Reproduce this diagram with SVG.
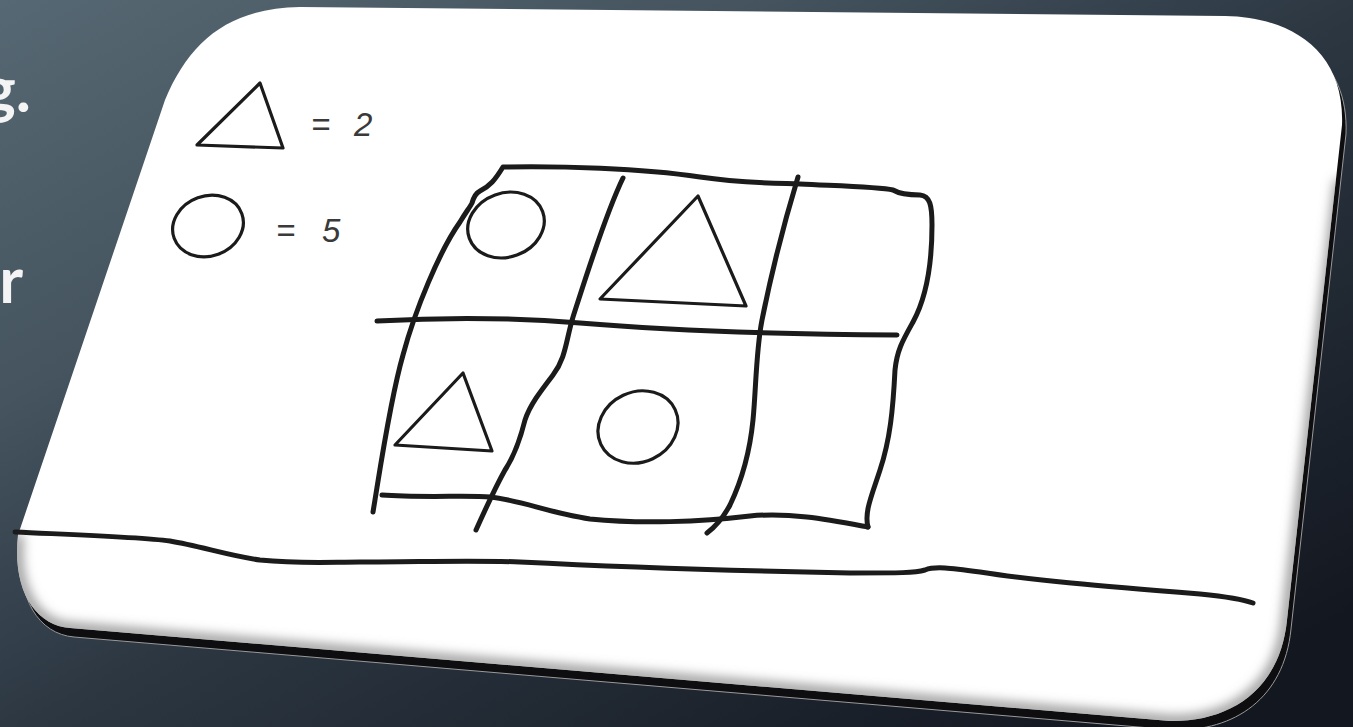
<svg xmlns="http://www.w3.org/2000/svg" width="1353" height="727" viewBox="0 0 1353 727">
  <defs>
    <linearGradient id="bg" gradientUnits="userSpaceOnUse" x1="0" y1="0" x2="560" y2="1040">
      <stop offset="0" stop-color="#566873"/>
      <stop offset="0.3" stop-color="#45545f"/>
      <stop offset="0.55" stop-color="#2c3742"/>
      <stop offset="1" stop-color="#131720"/>
    </linearGradient>
    <clipPath id="cardClip">
      <path d="M 300,7 L 1225,16 C 1290,17 1345,50 1342,125 L 1287,620 C 1280,690 1230,722 1170,721 L 70,628 C 35,625 12,590 18,535 L 165,100 C 190,40 230,8 300,7 Z"/>
    </clipPath>
    <filter id="blur8" x="-10%" y="-10%" width="120%" height="120%">
      <feGaussianBlur stdDeviation="6"/>
    </filter>
    <style>
      .ink { fill: none; stroke: #1b1b1b; stroke-linecap: round; stroke-linejoin: round; }
      .thick { stroke-width: 5; }
      .thin { stroke-width: 3.2; }
      .lbl { font-family: "Liberation Sans", Arial, sans-serif; font-style: italic; font-size: 33px; fill: #3a3a3a; }
      .slide { font-family: Lato, "Open Sans", sans-serif; font-weight: 700; font-size: 64px; fill: #f4f4f4; }
    </style>
  </defs>

  <rect id="background" x="0" y="0" width="1353" height="727" fill="url(#bg)"/>

  <g id="slide-text">
    <text class="slide" x="31" y="112" text-anchor="end">g.</text>
    <text class="slide" x="23" y="303" text-anchor="end">r</text>
  </g>

  <g id="card">
    <path d="M 300,7 L 1225,16 C 1290,17 1345,50 1342,125 L 1287,620 C 1280,690 1230,722 1170,721 L 70,628 C 35,625 12,590 18,535 L 165,100 C 190,40 230,8 300,7 Z" transform="translate(4,9)" fill="#0e0e10" stroke="#9a9a9a" stroke-width="1"/>
    <path d="M 300,7 L 1225,16 C 1290,17 1345,50 1342,125 L 1287,620 C 1280,690 1230,722 1170,721 L 70,628 C 35,625 12,590 18,535 L 165,100 C 190,40 230,8 300,7 Z" fill="#ffffff"/>
    <g clip-path="url(#cardClip)">
      <path d="M 1340,180 L 1287,620 C 1280,690 1230,722 1170,721 L 70,628 C 35,625 12,590 18,535" fill="none" stroke="#8a8a8a" stroke-width="10" filter="url(#blur8)"/>
    </g>
  </g>

  <g id="legend-triangle">
    <path class="ink thin" d="M 197,145 L 260,83 L 283,148 Z"/>
    <text class="lbl" x="311" y="136">=</text>
    <text class="lbl" x="354" y="136">2</text>
  </g>

  <g id="legend-circle">
    <ellipse class="ink thin" cx="208" cy="226" rx="36" ry="30" transform="rotate(-20 208 226)"/>
    <text class="lbl" x="276" y="242">=</text>
    <text class="lbl" x="322" y="242">5</text>
  </g>

  <g id="grid-lines">
    <path class="ink thick" d="M 373,512 C 380,470 390,400 403,355 C 415,310 440,250 460,222 C 466,212 470,207 472,203 C 474,196 476,193 480,191 C 490,186 495,180 503,167 C 560,166 640,168 700,177 C 740,183 770,183 800,184 C 840,186 880,187 893,190 C 898,193 905,195 920,195 C 930,196 932,205 932,225 C 932,270 925,300 913,322 C 903,340 897,350 895,370 C 893,410 890,440 880,470 C 872,495 864,512 868,527"/>
    <path class="ink thick" d="M 382,495 C 420,498 470,495 490,497 C 520,500 550,513 590,519 C 640,524 700,522 750,516 C 790,512 830,520 868,527"/>
    <path class="ink thick" d="M 377,321 C 450,317 520,318 580,323 C 650,329 760,334 897,335"/>
    <path class="ink thick" d="M 623,178 C 605,215 585,280 573,317 C 566,340 566,358 553,375 C 540,392 530,405 525,420 C 520,440 515,455 505,470 C 495,488 485,510 476,530"/>
    <path class="ink thick" d="M 798,177 C 785,220 770,280 762,320 C 756,350 756,390 753,420 C 750,450 742,480 730,505 C 722,520 715,527 707,533"/>
  </g>

  <g id="cell-top-left-circle">
    <ellipse class="ink thin" cx="506" cy="225" rx="39" ry="32" transform="rotate(-20 506 225)"/>
  </g>
  <g id="cell-top-middle-triangle">
    <path class="ink thin" d="M 600,299 L 698,196 L 746,306 Z"/>
  </g>
  <g id="cell-bottom-left-triangle">
    <path class="ink thin" d="M 395,445 L 463,373 L 492,451 Z"/>
  </g>
  <g id="cell-bottom-middle-circle">
    <ellipse class="ink thin" cx="638" cy="427" rx="41" ry="35" transform="rotate(-25 638 427)"/>
  </g>

  <g id="ground-line">
    <path class="ink thick" d="M 15,532 C 80,535 140,537 170,541 C 200,546 230,556 260,560 C 300,564 330,562 360,562 C 420,562 470,560 520,562 C 600,566 700,570 850,573 C 900,573 915,573 925,570 C 935,566 950,568 980,572 C 1030,580 1100,586 1200,594 C 1230,597 1245,600 1253,603"/>
  </g>
</svg>
